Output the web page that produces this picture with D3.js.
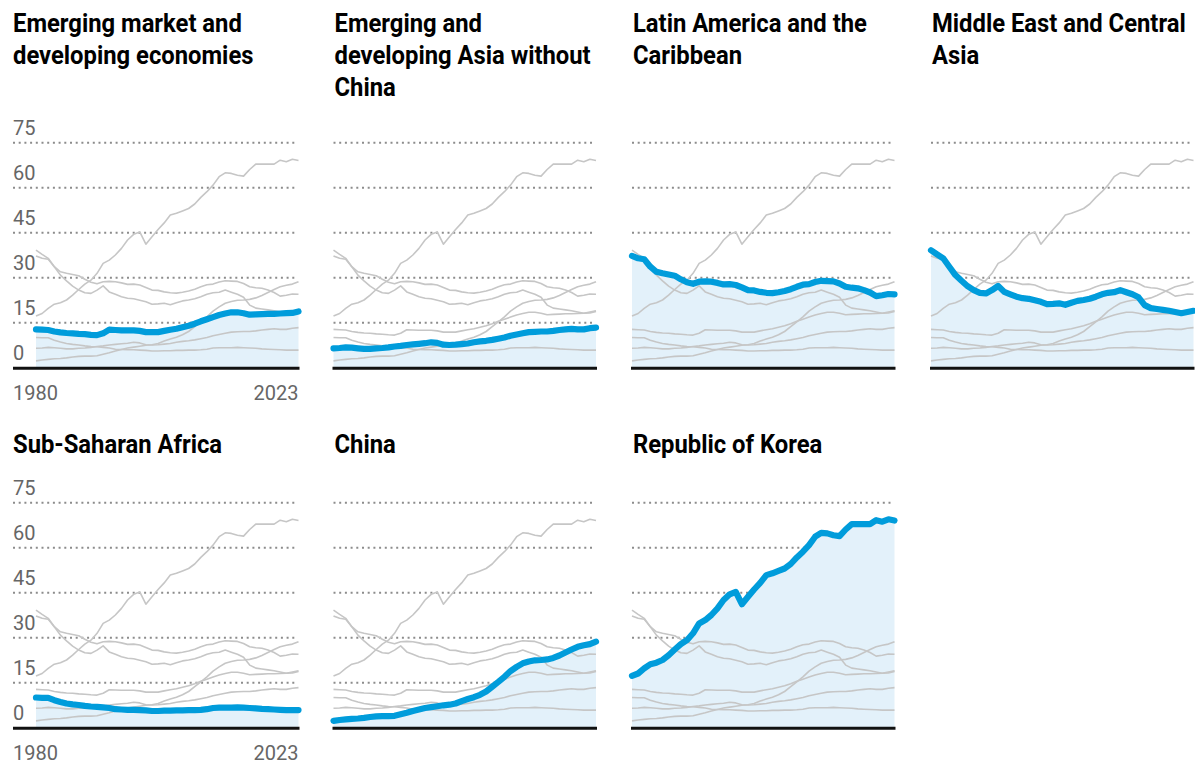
<!DOCTYPE html>
<html><head><meta charset="utf-8">
<script src="https://cdn.jsdelivr.net/npm/d3@7"></script>
<style>body{margin:0;background:#fff} svg{display:block}</style>
</head><body><svg id="c" width="1195" height="765"></svg>
<script>
const years = d3.range(1980, 2024);
const emde = [12.8,12.7,12.6,12.1,11.8,11.6,11.5,11.3,11.2,11.0, 10.9,11.5,12.7,12.6,12.5,12.5,12.5,12.3,11.9,11.9, 11.9,12.3,12.7,13.0,13.5,14.0,14.7,15.5,16.2,16.9, 17.6,18.1,18.5,18.5,18.2,17.7,17.8,17.9,18.0,18.0, 18.1,18.2,18.3,18.8];
const asiaExChina = [6.5,6.6,6.8,6.7,6.5,6.3,6.3,6.5,6.6,6.8, 7.1,7.3,7.6,7.8,8.0,8.2,8.5,8.3,7.7,7.6, 7.7,7.9,8.1,8.5,8.8,9.0,9.3,9.7,10.1,10.7, 11.1,11.5,11.9,12.0,12.1,12.1,12.3,12.6,12.8,13.0, 12.8,12.8,13.2,13.4];
const latAm = [37.3,36.5,36.2,33.7,32.0,31.5,31.1,30.7,29.5,28.5, 28.0,28.7,28.8,28.7,28.3,27.8,27.9,27.6,26.8,25.9, 25.8,25.3,25.0,24.9,25.2,25.6,26.2,27.0,27.7,27.9, 28.6,29.0,28.9,28.8,28.1,27.0,26.7,26.5,25.9,25.1, 23.9,24.2,24.6,24.5];
const meca = [39.2,37.8,36.5,33.7,30.9,29.0,27.2,25.9,25.0,24.8, 25.9,27.3,25.3,24.5,23.7,23.2,23.0,22.5,22.0,21.2, 21.3,21.5,21.0,21.7,22.3,22.6,23.0,23.7,24.5,25.0, 25.2,25.9,25.2,24.5,23.5,20.9,19.9,19.6,19.3,19.0, 18.6,18.2,18.6,19.0];
const ssa = [10.1,10.0,10.0,9.2,8.6,8.1,7.8,7.6,7.3,7.1, 7.0,6.8,6.6,6.2,6.1,6.0,6.0,5.9,5.8,5.6, 5.6,5.7,5.7,5.8,5.8,5.9,5.9,6.0,6.2,6.6, 6.7,6.7,6.7,6.8,6.7,6.6,6.5,6.3,6.2,6.1, 6.0,5.9,5.9,5.9];
const china = [2.3,2.6,2.8,3.0,3.1,3.3,3.6,3.8,3.9,3.9, 4.0,4.5,5.0,5.6,6.1,6.6,6.9,7.2,7.5,7.7, 8.1,8.9,9.6,10.2,11.0,12.1,13.7,15.3,17.0,18.9, 20.3,21.5,22.1,22.5,22.6,22.8,23.3,24.1,25.1,26.1, 27.0,27.5,27.9,28.7];
const korea = [17.3,18.1,19.8,21.2,21.7,22.6,24.2,26.1,27.9,29.2, 31.5,34.8,35.9,37.6,39.8,42.6,44.5,45.3,41.2,43.7, 46.1,48.3,50.9,51.5,52.3,53.1,54.6,56.8,58.7,60.9, 63.7,65.0,64.8,64.2,63.9,66.1,67.9,67.9,67.9,67.9, 69.2,68.7,69.5,69.1];

const series = [emde, asiaExChina, latAm, meca, ssa, china, korea];
const titles = [
  ["Emerging market and", "developing economies"],
  ["Emerging and", "developing Asia without", "China"],
  ["Latin America and the", "Caribbean"],
  ["Middle East and Central", "Asia"],
  ["Sub-Saharan Africa"],
  ["China"],
  ["Republic of Korea"]
];
const yTicks = [0, 15, 30, 45, 60, 75];
const yearLabels = ["1980", "2023"];

// layout
const colLeft = [36, 333.5, 632, 931];
const plotW = 262.5;
const rowBase = [367.8, 727.8];
const rowTitle = [31.5, 453.3];
const lineH = 32.3;
const BLUE = "#009cdb", FILL = "#e3f1fa", GREY = "#c6c6c6";

const svg = d3.select("#c");

// title scale factor (condensed look)
const probe = svg.append("text").attr("font-family","Roboto, 'Liberation Sans', sans-serif")
  .attr("font-weight",700).attr("font-size",25).text("Emerging market and");
const kx = 229 / probe.node().getComputedTextLength();
probe.remove();

series.forEach((s, idx) => {
  const col = idx % 4, row = Math.floor(idx / 4);
  const left = colLeft[col];
  const x = d3.scaleLinear().domain([1980, 2023]).range([left, left + plotW]);
  const y = d3.scaleLinear().domain([0, 75]).range([rowBase[row], rowBase[row] - 225]);
  const g = svg.append("g");
  const gx0 = col === 0 ? 13 : left;

  // gridlines
  g.selectAll("line.grid").data(yTicks.filter(t => t > 0)).join("line")
    .attr("x1", gx0).attr("x2", left + plotW - 2)
    .attr("y1", d => y(d)).attr("y2", d => y(d))
    .attr("stroke", "#8c8c8c").attr("stroke-width", 2)
    .attr("stroke-dasharray", "2,3.7");

  // y labels on first column
  if (col === 0) {
    g.selectAll("text.yl").data(yTicks).join("text")
      .attr("x", 13).attr("y", d => y(d) - 8)
      .attr("font-family", "Roboto, sans-serif").attr("font-size", 20)
      .attr("fill", "#666").text(d => d);
    g.append("text").attr("x", 13).attr("y", rowBase[row] + 32)
      .attr("font-family", "Roboto, sans-serif").attr("font-size", 20)
      .attr("fill", "#666").text(yearLabels[0]);
    g.append("text").attr("x", left + plotW).attr("y", rowBase[row] + 32)
      .attr("text-anchor", "end")
      .attr("font-family", "Roboto, sans-serif").attr("font-size", 20)
      .attr("fill", "#666").text(yearLabels[1]);
  }

  const data = s.map((v, i) => ({yr: years[i], v}));
  // area
  g.append("path").datum(data)
    .attr("d", d3.area().x(d => x(d.yr)).y0(y(0)).y1(d => y(d.v)))
    .attr("fill", FILL);

  const line = d3.line().x(d => x(d.yr)).y(d => y(d.v));
  // grey lines
  series.forEach((o, j) => {
    if (j === idx) return;
    g.append("path").datum(o.map((v, i) => ({yr: years[i], v})))
      .attr("d", line).attr("fill", "none")
      .attr("stroke", GREY).attr("stroke-width", 1.6)
      .attr("stroke-linejoin", "round");
  });
  // highlight
  g.append("path").datum(data).attr("d", line).attr("fill", "none")
    .attr("stroke", BLUE).attr("stroke-width", 6.2)
    .attr("stroke-linejoin", "round").attr("stroke-linecap", "round");

  // baseline
  g.append("line").attr("x1", col === 0 ? 13 : left - 1).attr("x2", left + plotW + 1)
    .attr("y1", y(0) + 0.5).attr("y2", y(0) + 0.5)
    .attr("stroke", "#111").attr("stroke-width", 3);

  // title
  const tx = col === 0 ? 13 : left + 1;
  titles[idx].forEach((t, li) => {
    svg.append("text")
      .attr("transform", `translate(${tx},${rowTitle[row] + li * lineH}) scale(${kx},1)`)
      .attr("font-family", "Roboto, 'Liberation Sans', sans-serif")
      .attr("font-weight", 700).attr("font-size", 25).attr("fill", "#000")
      .text(t);
  });
});
</script></body></html>
